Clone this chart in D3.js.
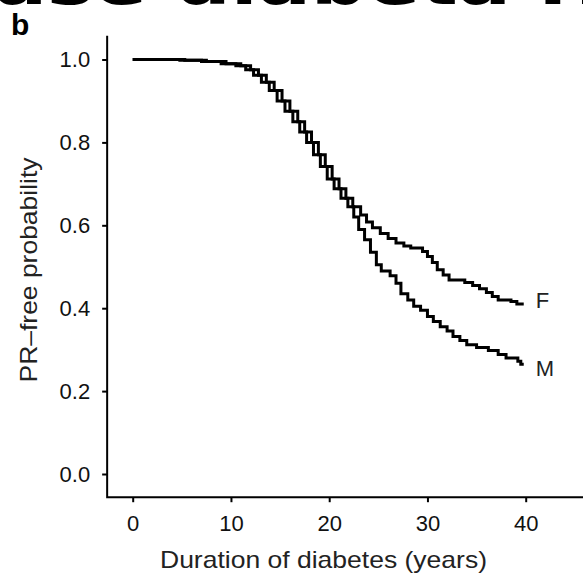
<!DOCTYPE html>
<html>
<head>
<meta charset="utf-8">
<script src="https://cdn.jsdelivr.net/npm/d3@7"></script>
<style>
  body { margin: 0; background: #fff; }
  svg { display: block; }
  text { font-family: "Liberation Sans", Arial, sans-serif; fill: #111; }
</style>
</head>
<body>
<div id="chart"></div>
<script>
// Kaplan-Meier style curves, PR-free probability by sex
const xTicks = [0, 10, 20, 30, 40];
const yTicks = [0, 0.2, 0.4, 0.6, 0.8, 1.0];

// males (M)
const maleTimes = [0, 4.8, 7, 9, 10.5, 11.5, 12.3, 13.1, 13.9, 14.7, 15.5, 16.3, 17.0, 17.7, 18.4, 19.1, 19.8, 20.5, 21.2, 21.9,
  22.5, 23.0, 23.6, 24.2, 24.8, 25.3, 26.2, 26.8, 27.3, 28.0, 28.6, 29.3, 30.0, 30.6, 31.3, 32.0, 32.6, 33.3, 34.0, 35.0,
  36.2, 37.2, 38.0, 39.2, 39.5, 39.8];
const maleSurv = [1.0, 0.998, 0.995, 0.99, 0.985, 0.975, 0.962, 0.945, 0.925, 0.9, 0.875, 0.85, 0.825, 0.8, 0.77, 0.742, 0.712, 0.688, 0.665, 0.645,
  0.62, 0.59, 0.565, 0.535, 0.505, 0.49, 0.478, 0.46, 0.435, 0.42, 0.405, 0.395, 0.38, 0.368, 0.355, 0.345, 0.332, 0.322, 0.312, 0.305,
  0.298, 0.288, 0.28, 0.272, 0.265, 0.265];

// females (F)
const femaleTimes = [0, 5.3, 7.5, 9.5, 11.0, 12.0, 12.8, 13.6, 14.4, 15.2, 16.0, 16.8, 17.5, 18.2, 18.9, 19.6, 20.3, 21.0, 21.7, 22.4,
  23.2, 23.8, 24.4, 25.2, 26.0, 26.8, 27.6, 28.3, 29.5, 30.0, 30.5, 31.0, 31.6, 32.2, 33.8, 34.6, 35.3, 36.0, 36.6, 37.2,
  38.5, 39.1, 39.8];
const femaleSurv = [1.0, 0.998, 0.995, 0.99, 0.985, 0.975, 0.962, 0.945, 0.925, 0.9, 0.875, 0.85, 0.825, 0.8, 0.77, 0.742, 0.712, 0.688, 0.665, 0.645,
  0.625, 0.608, 0.594, 0.58, 0.568, 0.557, 0.55, 0.545, 0.537, 0.525, 0.51, 0.493, 0.48, 0.468, 0.462, 0.455, 0.447, 0.438, 0.428, 0.42,
  0.416, 0.41, 0.41];

const groups = [
  {name: "F", times: femaleTimes, surv: femaleSurv, labelP: 0.42},
  {name: "M", times: maleTimes, surv: maleSurv, labelP: 0.255}
];

const width = 583, height = 573;
const xLim = [-2.6, 46], yLim = [-0.056, 1.057];

const svg = d3.select("#chart").append("svg")
  .attr("width", width)
  .attr("height", height);

const x = d3.scaleLinear().domain([0, 40]).range([132.7, 525.7]);
const y = d3.scaleLinear().domain([0, 1]).range([474, 59.5]);

// cut-off heading from the panel above (only its lower edge shows)
svg.append("text")
  .attr("x", -6).attr("y", 4)
  .attr("textLength", 610)
  .attr("lengthAdjust", "spacingAndGlyphs")
  .style("font-family", "'DejaVu Sans', sans-serif")
  .style("font-size", "64px")
  .style("font-weight", "bold")
  .style("fill", "#000")
  .text("ase diabeta H");

// panel letter
svg.append("text")
  .attr("x", 11).attr("y", 35)
  .style("font-size", "30px")
  .style("font-weight", "bold")
  .style("fill", "#000")
  .text("b");

// L-shaped frame
svg.append("path")
  .attr("d", `M${x(xLim[0])},${y(yLim[1])}V${y(yLim[0])}H${x(xLim[1])}`)
  .attr("fill", "none")
  .attr("stroke", "#000")
  .attr("stroke-width", 2);

const yAxis = svg.append("g")
  .attr("transform", `translate(${x(xLim[0])},0)`)
  .call(d3.axisLeft(y).tickValues(yTicks).tickFormat(d3.format(".1f")).tickSize(5).tickPadding(12));
const xAxis = svg.append("g")
  .attr("transform", `translate(0,${y(yLim[0])})`)
  .call(d3.axisBottom(x).tickValues(xTicks).tickSize(5).tickPadding(13));

[yAxis, xAxis].forEach(g => {
  g.select(".domain").remove();
  g.selectAll(".tick line").attr("stroke", "#000").attr("stroke-width", 2);
  g.selectAll(".tick text").style("font-size", "22px").style("font-family", "'Liberation Sans', Arial, sans-serif").attr("fill", "#222");
});

// axis titles
svg.append("text")
  .attr("x", 323.5).attr("y", 568)
  .attr("text-anchor", "middle")
  .attr("textLength", 327)
  .attr("lengthAdjust", "spacingAndGlyphs")
  .style("font-size", "24px")
  .style("fill", "#222")
  .text("Duration of diabetes (years)");

svg.append("text")
  .attr("transform", "translate(37,270) rotate(-90)")
  .attr("text-anchor", "middle")
  .attr("textLength", 225)
  .attr("lengthAdjust", "spacingAndGlyphs")
  .style("font-size", "24px")
  .style("fill", "#222")
  .text("PR\u2013free probability");

// step curves
const line = d3.line()
  .x(d => x(d[0]))
  .y(d => y(d[1]))
  .curve(d3.curveStepAfter);

svg.selectAll(".km")
  .data(groups)
  .enter()
  .append("path")
    .attr("class", "km")
    .attr("d", g => line(d3.zip(g.times, g.surv)))
    .attr("fill", "none")
    .attr("stroke", "#000")
    .attr("stroke-width", 3);

svg.selectAll(".grp")
  .data(groups)
  .enter()
  .append("text")
    .attr("class", "grp")
    .attr("x", g => x(g.times[g.times.length - 1]) + 12)
    .attr("y", g => y(g.labelP))
    .attr("dy", "0.35em")
    .style("font-size", "22px")
    .style("fill", "#222")
    .text(g => g.name);
</script>
</body>
</html>
